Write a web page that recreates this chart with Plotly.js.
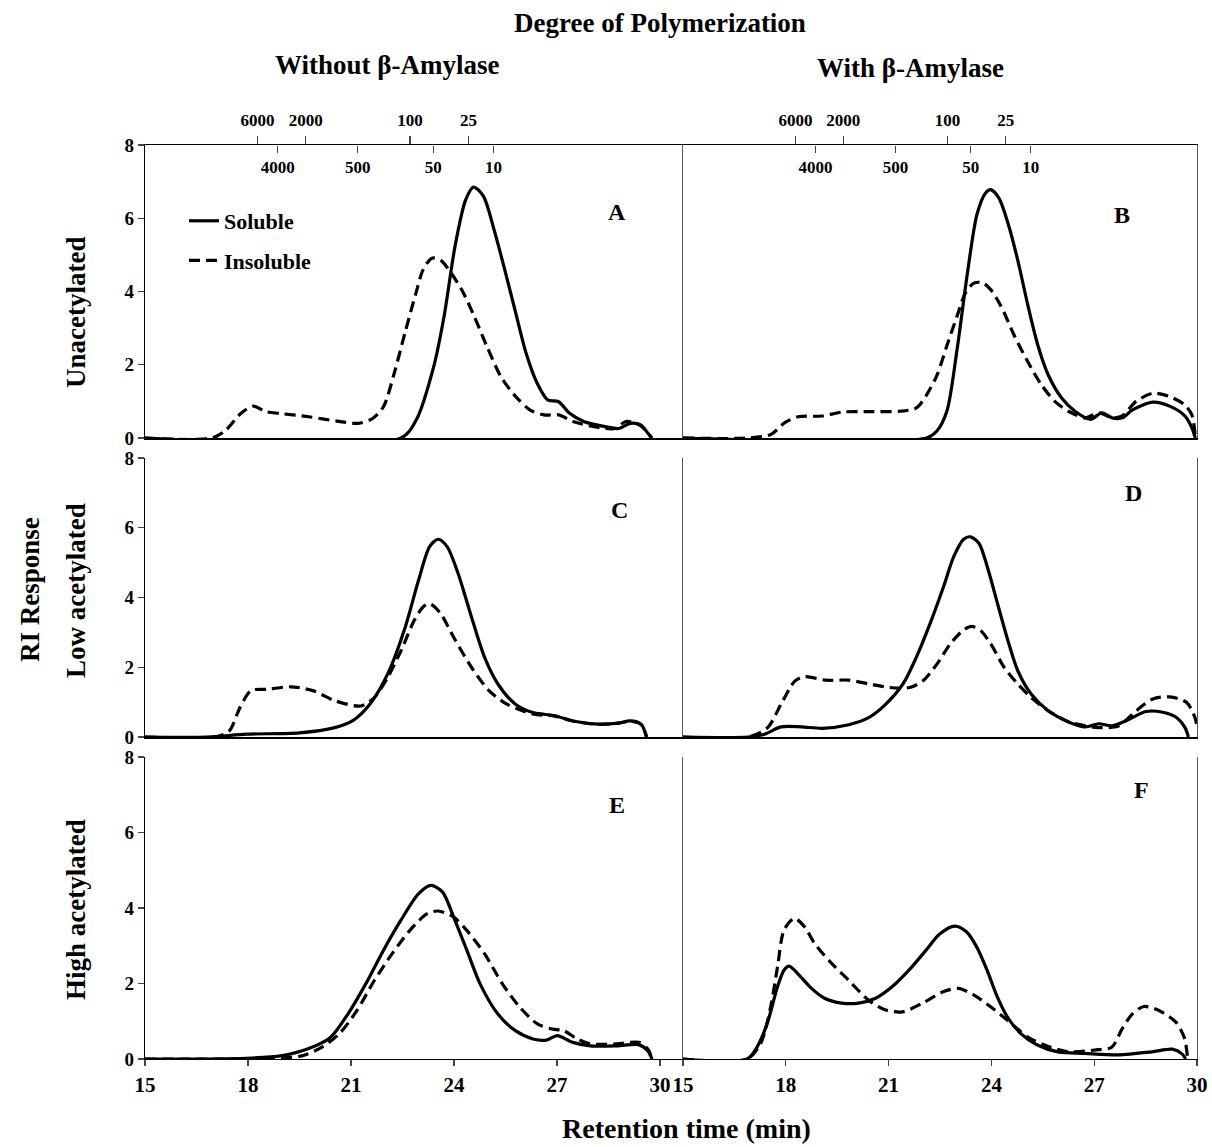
<!DOCTYPE html>
<html>
<head>
<meta charset="utf-8">
<script src="https://cdn.plot.ly/plotly-3.0.1.min.js"></script>
<style>html,body{margin:0;padding:0;background:#fff;}#chart{width:1212px;height:1147px;}</style>
</head>
<body>
<div id="chart"></div>
<script>
// ---------- DATA (retention time in min, RI response) ----------
const seriesNames = ["Soluble", "Insoluble"];
const panelLetters = ["A", "B", "C", "D", "E", "F"];
const rowLabels = ["Unacetylated", "Low acetylated", "High acetylated"];
const colLabels = ["Without β-Amylase", "With β-Amylase"];

// Panel A: unacetylated, without beta-amylase
const tA_sol = [15, 22.46, 22.9, 23.41, 23.71, 24.03, 24.34, 24.57, 24.86, 25.17, 25.48, 25.8, 26.1, 26.42, 26.73, 27.05, 27.36, 27.78, 28.4, 28.8, 29.13, 29.44, 29.65, 29.77];
const vA_sol = [0, 0, 0.49, 1.95, 3.31, 5.23, 6.5, 6.85, 6.6, 5.68, 4.59, 3.41, 2.32, 1.5, 1.04, 0.99, 0.68, 0.45, 0.31, 0.26, 0.4, 0.36, 0.13, 0];
const tA_ins = [15, 16.96, 17.36, 17.79, 18.15, 18.52, 18.93, 19.77, 20.59, 21.22, 21.64, 21.95, 22.26, 22.57, 22.89, 23.1, 23.36, 23.61, 23.92, 24.23, 24.55, 24.96, 25.37, 25.8, 26.21, 26.62, 27.05, 27.47, 28.08, 28.7, 29.0, 29.35, 29.6, 29.75];
const vA_ins = [0, 0, 0.22, 0.67, 0.87, 0.72, 0.67, 0.58, 0.46, 0.4, 0.54, 0.86, 1.77, 2.86, 3.95, 4.59, 4.91, 4.86, 4.5, 4.04, 3.41, 2.5, 1.67, 1.13, 0.77, 0.63, 0.63, 0.45, 0.31, 0.26, 0.45, 0.38, 0.2, 0];

// Panel B: unacetylated, with beta-amylase
const tB_sol = [15, 22.11, 22.41, 22.7, 23.0, 23.3, 23.58, 23.83, 23.98, 24.22, 24.52, 24.77, 25.07, 25.36, 25.66, 26.05, 26.44, 26.89, 27.23, 27.52, 27.82, 28.12, 28.71, 29.2, 29.65, 29.85, 29.95];
const vB_sol = [0, 0, 0.19, 0.73, 2.43, 4.5, 6.11, 6.69, 6.78, 6.55, 5.75, 4.85, 3.6, 2.52, 1.72, 1.09, 0.73, 0.51, 0.69, 0.55, 0.55, 0.77, 0.98, 0.87, 0.6, 0.28, 0];
const tB_ins = [15, 16.9, 17.57, 17.97, 18.36, 19.05, 19.65, 20.44, 21.32, 21.81, 22.11, 22.41, 22.7, 23.0, 23.24, 23.49, 23.74, 23.98, 24.28, 24.67, 25.07, 25.46, 25.85, 26.25, 26.74, 27.13, 27.52, 27.82, 28.22, 28.71, 29.2, 29.65, 29.85, 29.95];
const vB_ins = [0, 0, 0.1, 0.42, 0.58, 0.6, 0.71, 0.72, 0.73, 0.82, 1.18, 1.71, 2.52, 3.33, 3.96, 4.23, 4.24, 4.05, 3.6, 2.79, 2.07, 1.45, 1.0, 0.73, 0.55, 0.69, 0.55, 0.6, 1.0, 1.22, 1.13, 0.9, 0.63, 0.05];

// Panel C: low acetylated, without beta-amylase
const tC_sol = [15, 16.8, 17.96, 19.5, 20.53, 21.04, 21.55, 22.07, 22.58, 22.97, 23.29, 23.54, 23.8, 24.12, 24.51, 24.89, 25.28, 25.79, 26.3, 26.94, 27.46, 28.22, 28.8, 29.13, 29.45, 29.61];
const vC_sol = [0, 0, 0.08, 0.12, 0.27, 0.46, 0.94, 1.81, 3.15, 4.5, 5.46, 5.67, 5.46, 4.69, 3.44, 2.29, 1.52, 0.94, 0.7, 0.61, 0.46, 0.37, 0.4, 0.46, 0.37, 0];
const tC_ins = [15, 17.06, 17.45, 17.77, 18.09, 18.6, 19.24, 19.89, 20.53, 21.29, 21.68, 22.07, 22.46, 22.84, 23.1, 23.29, 23.61, 23.99, 24.51, 25.02, 25.54, 26.3, 26.94, 27.46, 28.22, 28.8, 29.13, 29.45, 29.61];
const vC_ins = [0, 0, 0.17, 0.85, 1.33, 1.37, 1.44, 1.33, 1.04, 0.89, 1.13, 1.71, 2.48, 3.34, 3.73, 3.82, 3.54, 2.86, 2.0, 1.33, 0.94, 0.66, 0.6, 0.46, 0.36, 0.4, 0.45, 0.36, 0];

// Panel D: low acetylated, with beta-amylase
const tD_sol = [15, 16.9, 17.38, 17.86, 18.46, 19.06, 19.84, 20.43, 20.92, 21.42, 21.81, 22.21, 22.6, 22.9, 23.19, 23.39, 23.64, 23.88, 24.18, 24.48, 24.77, 25.16, 25.66, 26.25, 26.74, 27.13, 27.52, 28.02, 28.51, 29.0, 29.4, 29.65, 29.75];
const vD_sol = [0, 0, 0.08, 0.29, 0.29, 0.25, 0.35, 0.56, 0.94, 1.52, 2.29, 3.25, 4.3, 5.17, 5.67, 5.74, 5.55, 4.88, 3.82, 2.77, 1.9, 1.23, 0.75, 0.43, 0.29, 0.38, 0.32, 0.51, 0.73, 0.71, 0.56, 0.27, 0];
const tD_ins = [15, 16.9, 17.47, 17.86, 18.27, 18.56, 19.16, 19.84, 20.43, 21.03, 21.62, 22.0, 22.41, 22.8, 23.19, 23.43, 23.69, 23.98, 24.37, 24.77, 25.16, 25.66, 26.25, 26.74, 27.13, 27.72, 28.22, 28.71, 29.2, 29.7, 29.94, 30];
const vD_ins = [0, 0, 0.27, 0.94, 1.61, 1.73, 1.63, 1.63, 1.52, 1.42, 1.42, 1.61, 2.09, 2.67, 3.07, 3.17, 3.05, 2.67, 2.0, 1.52, 1.13, 0.75, 0.44, 0.32, 0.27, 0.32, 0.75, 1.09, 1.15, 0.99, 0.56, 0.3];

// Panel E: high acetylated, without beta-amylase
const tE_sol = [15, 17.96, 18.99, 19.75, 20.4, 20.91, 21.43, 21.94, 22.45, 22.97, 23.33, 23.67, 23.99, 24.38, 24.76, 25.28, 25.79, 26.3, 26.69, 27.01, 27.46, 27.97, 28.74, 29.38, 29.64, 29.77];
const vE_sol = [0, 0.02, 0.09, 0.27, 0.57, 1.19, 1.99, 2.87, 3.67, 4.38, 4.6, 4.42, 3.76, 2.87, 1.99, 1.19, 0.75, 0.53, 0.5, 0.62, 0.44, 0.35, 0.35, 0.38, 0.22, 0];
const tE_ins = [15, 18.5, 19.6, 20.14, 20.65, 21.17, 21.68, 22.2, 22.71, 23.22, 23.54, 23.99, 24.38, 24.89, 25.41, 25.92, 26.43, 26.82, 27.2, 27.59, 27.97, 28.74, 29.38, 29.64, 29.77];
const vE_ins = [0, 0.01, 0.09, 0.31, 0.66, 1.28, 2.08, 2.79, 3.4, 3.85, 3.92, 3.76, 3.4, 2.79, 1.99, 1.37, 0.93, 0.8, 0.75, 0.53, 0.4, 0.4, 0.44, 0.27, 0];

// Panel F: high acetylated, with beta-amylase
const tF_sol = [15, 16.87, 17.17, 17.46, 17.76, 17.95, 18.1, 18.34, 18.75, 19.13, 19.63, 20.12, 20.62, 21.11, 21.6, 22.1, 22.49, 22.93, 23.27, 23.57, 23.87, 24.17, 24.46, 24.85, 25.34, 25.94, 26.72, 27.7, 28.68, 29.28, 29.57, 29.67];
const vF_sol = [0, 0, 0.33, 0.95, 1.92, 2.36, 2.46, 2.27, 1.87, 1.61, 1.48, 1.48, 1.61, 1.92, 2.36, 2.89, 3.31, 3.52, 3.37, 2.97, 2.36, 1.65, 1.12, 0.68, 0.37, 0.19, 0.15, 0.11, 0.19, 0.26, 0.13, 0];
const tF_ins = [15, 16.87, 17.27, 17.56, 17.76, 17.95, 18.25, 18.55, 18.84, 19.33, 19.83, 20.41, 20.91, 21.41, 21.99, 22.59, 23.03, 23.48, 23.97, 24.46, 25.05, 25.55, 26.24, 27.12, 27.51, 27.81, 28.11, 28.45, 28.9, 29.39, 29.63, 29.73];
const vF_ins = [0, 0, 0.42, 1.39, 2.45, 3.42, 3.73, 3.5, 3.06, 2.54, 2.09, 1.56, 1.3, 1.25, 1.48, 1.78, 1.87, 1.7, 1.39, 1.03, 0.59, 0.37, 0.19, 0.25, 0.31, 0.79, 1.19, 1.39, 1.28, 0.97, 0.56, 0];

// Degree of polymerization scale (top axis): retention time of each DP mark
const dpUpperLabels = ["6000", "2000", "100", "25"];
const dpUpperTimes  = [18.28, 19.68, 22.72, 24.42];
const dpLowerLabels = ["4000", "500", "50", "10"];
const dpLowerTimes  = [18.87, 21.2, 23.4, 25.15];

const xTickVals = [15, 18, 21, 24, 27, 30];
const yTickVals = [0, 2, 4, 6, 8];

// ---------- FIGURE ----------
const W = 1212, H = 1147;
const FONT = 'Liberation Serif, "Times New Roman", Times, serif';
const px = v => v / W;
const py = v => 1 - v / H;

const colDom = [[px(145), px(683)], [px(683), px(1197)]];
const colRange = [[15, 15 + (683 - 145) / 34.33], [15, 30]];
const rowDom = [[py(438), py(145)], [py(737), py(458)], [py(1059), py(757)]];
const letterPos = [[617, 212], [1122, 215], [619, 510], [1133, 493], [617, 805], [1141, 790]];

const seriesData = [
  [tA_sol, vA_sol, tA_ins, vA_ins],
  [tB_sol, vB_sol, tB_ins, vB_ins],
  [tC_sol, vC_sol, tC_ins, vC_ins],
  [tD_sol, vD_sol, tD_ins, vD_ins],
  [tE_sol, vE_sol, tE_ins, vE_ins],
  [tF_sol, vF_sol, tF_ins, vF_ins]
];

const tfont = s => ({family: FONT, size: s, color: '#000', weight: 'bold'});
const traces = [];
const layout = {
  width: W, height: H, autosize: false,
  margin: {l: 0, r: 0, t: 0, b: 0},
  paper_bgcolor: '#fff', plot_bgcolor: 'rgba(0,0,0,0)',
  font: tfont(20),
  showlegend: true,
  legend: {
    x: px(184), y: py(200), xanchor: 'left', yanchor: 'top',
    bgcolor: 'rgba(0,0,0,0)', tracegroupgap: 8,
    font: tfont(22), itemwidth: 30
  },
  annotations: [],
  shapes: []
};

for (let p = 0; p < 6; p++) {
  const row = Math.floor(p / 2), col = p % 2;
  const n = p + 1;
  const xa = n === 1 ? 'x' : 'x' + n;
  const ya = n === 1 ? 'y' : 'y' + n;
  const xk = n === 1 ? 'xaxis' : 'xaxis' + n;
  const yk = n === 1 ? 'yaxis' : 'yaxis' + n;
  const d = seriesData[p];
  traces.push({
    x: d[0], y: d[1], xaxis: xa, yaxis: ya, type: 'scatter', mode: 'lines',
    name: seriesNames[0], legendgroup: 'g1', showlegend: p === 0,
    line: {color: '#000', width: 3.2, shape: 'spline', smoothing: 0.8},
    hoverinfo: 'skip'
  });
  traces.push({
    x: d[2], y: d[3], xaxis: xa, yaxis: ya, type: 'scatter', mode: 'lines',
    name: seriesNames[1], legendgroup: 'g2', showlegend: p === 0,
    line: {color: '#000', width: 3.2, dash: '11px,6px', shape: 'spline', smoothing: 0.8},
    hoverinfo: 'skip'
  });
  const bottom = row === 2;
  layout[xk] = {
    domain: colDom[col], range: colRange[col], anchor: ya,
    tickvals: xTickVals, ticktext: xTickVals.map(String),
    showticklabels: bottom, ticks: bottom ? 'outside' : '', ticklen: 6, tickwidth: 1.2,
    showline: true, linecolor: '#000', linewidth: bottom ? 1.4 : 2,
    showgrid: false, zeroline: false, fixedrange: true,
    tickfont: tfont(21)
  };
  layout[yk] = {
    domain: rowDom[row], range: [0, 8], anchor: xa,
    tickvals: yTickVals, ticktext: yTickVals.map(String),
    showticklabels: col === 0, ticks: col === 0 ? 'outside' : '', ticklen: 6, tickwidth: 1.2,
    showline: true, linecolor: col === 0 ? '#000' : '#555', linewidth: 1.2,
    mirror: col === 1,
    showgrid: false, zeroline: false, fixedrange: true,
    tickfont: tfont(19)
  };
  layout.annotations.push({
    xref: 'paper', yref: 'paper', xanchor: 'center', yanchor: 'middle',
    x: px(letterPos[p][0]), y: py(letterPos[p][1]),
    text: panelLetters[p], showarrow: false, font: tfont(24)
  });
}

// Degree-of-polymerization top axes on panels A and B
let ax = 7;
for (let col = 0; col < 2; col++) {
  const base = col === 0 ? 'x' : 'x2';
  const ya = col === 0 ? 'y' : 'y2';
  layout['xaxis' + ax] = {
    overlaying: base, anchor: ya, side: 'top', domain: colDom[col], range: colRange[col],
    tickvals: dpUpperTimes, ticktext: dpUpperLabels,
    ticks: 'outside', ticklen: 8, tickwidth: 1.2, ticklabelstandoff: 3,
    showline: true, linecolor: '#000', linewidth: 1.2,
    showgrid: false, zeroline: false, fixedrange: true,
    tickfont: tfont(17)
  };
  layout['xaxis' + (ax + 1)] = {
    overlaying: base, anchor: 'free', position: py(145), side: 'bottom',
    domain: colDom[col], range: colRange[col],
    tickvals: dpLowerTimes, ticktext: dpLowerLabels,
    ticks: 'outside', ticklen: 7, tickwidth: 1.2,
    showline: false, showgrid: false, zeroline: false, fixedrange: true,
    tickfont: tfont(17)
  };
  // invisible carrier traces so that the DP axes are drawn
  traces.push({x: dpUpperTimes, y: dpUpperTimes.map(() => null), xaxis: 'x' + ax, yaxis: ya,
    type: 'scatter', mode: 'lines', showlegend: false, hoverinfo: 'skip'});
  traces.push({x: dpLowerTimes, y: dpLowerTimes.map(() => null), xaxis: 'x' + (ax + 1), yaxis: ya,
    type: 'scatter', mode: 'lines', showlegend: false, hoverinfo: 'skip'});
  ax += 2;
}

const ann = (x, y, text, size, angle) => ({
  xref: 'paper', yref: 'paper', x: px(x), y: py(y), xanchor: 'center', yanchor: 'middle',
  text: text, textangle: angle || 0, showarrow: false, font: tfont(size)
});
layout.annotations.push(
  ann(660, 23, 'Degree of Polymerization', 27),
  ann(387, 65, colLabels[0], 27),
  ann(910, 68, colLabels[1], 27),
  ann(686, 1128, 'Retention time (min)', 28),
  ann(30, 590, 'RI Response', 27, -90),
  ann(76, 313, rowLabels[0], 27, -90),
  ann(76, 591, rowLabels[1], 27, -90),
  ann(76, 910, rowLabels[2], 27, -90)
);

Plotly.newPlot('chart', traces, layout, {staticPlot: true, displayModeBar: false});
</script>
</body>
</html>
